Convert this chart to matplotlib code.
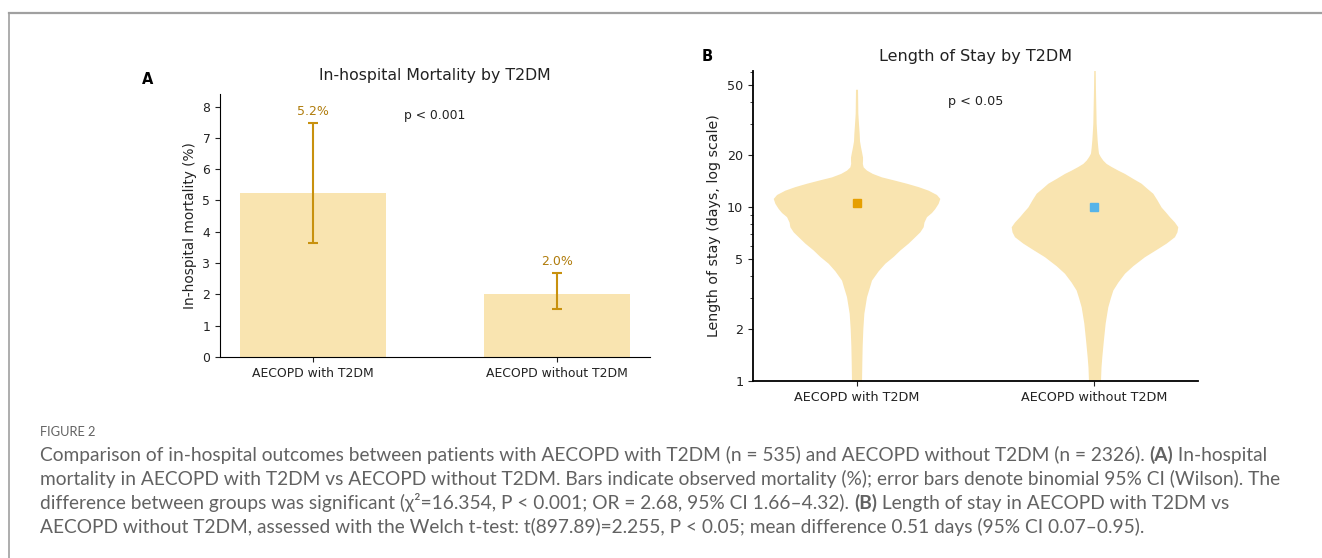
import matplotlib
matplotlib.use('Agg')
import matplotlib.pyplot as plt
from matplotlib.lines import Line2D
from matplotlib.ticker import FixedLocator, NullFormatter

plt.rcParams['font.family'] = ['DejaVu Sans']

# ---- data ----
groups = ['AECOPD with T2DM', 'AECOPD without T2DM']
mort_pct = [5.23, 2.02]
ci_low = [3.65, 1.52]
ci_high = [7.46, 2.68]
mort_labels = ['5.2%', '2.0%']

los_mean = [10.55, 10.04]

# violin outlines: length of stay (days) and relative half-width
los_days_with = [1.0, 1.3, 1.6, 2.0, 2.45, 3.05, 3.4, 3.8, 4.3, 4.75, 5.2, 5.66, 6.2, 6.75, 7.2,
                 7.7, 8.2, 8.8, 9.3, 9.8, 10.5, 11.2, 11.8, 12.5, 13.1, 13.7, 14.3, 14.9,
                 15.6, 16.3, 17.0, 17.8, 18.6, 19.4, 20.8, 22.2, 24.0, 26.5, 30.0, 34.6, 41.0, 47.5]
los_width_with = [0.06, 0.064, 0.068, 0.076, 0.088, 0.12, 0.15, 0.18, 0.26, 0.34, 0.44, 0.52,
                  0.62, 0.70, 0.76, 0.80, 0.81, 0.84, 0.90, 0.94, 0.98, 1.0, 0.96, 0.86, 0.74,
                  0.60, 0.45, 0.30, 0.19, 0.12, 0.08, 0.07, 0.072, 0.072, 0.06, 0.048, 0.036,
                  0.032, 0.024, 0.016, 0.014, 0.012]

los_days_without = [1.0, 1.2, 1.38, 1.7, 2.15, 2.4, 2.67, 3.0, 3.33, 3.7, 4.16, 4.6, 5.18, 5.7,
                    6.2, 6.75, 7.2, 7.7, 8.2, 8.8, 9.4, 10.0, 11.0, 12.0, 12.8, 13.7, 14.6,
                    15.6, 16.3, 17.1, 17.8, 18.6, 19.5, 20.4, 22.0, 24.3, 27.0, 30.3, 38.0, 47.0, 56.0, 65.0]
los_width_without = [0.072, 0.078, 0.088, 0.106, 0.128, 0.144, 0.16, 0.19, 0.22, 0.28, 0.36,
                     0.46, 0.60, 0.74, 0.86, 0.96, 0.99, 1.0, 0.96, 0.90, 0.85, 0.80, 0.75,
                     0.70, 0.63, 0.56, 0.46, 0.36, 0.28, 0.20, 0.14, 0.10, 0.07, 0.048, 0.04,
                     0.032, 0.026, 0.02, 0.016, 0.012, 0.01, 0.008]

fill_col = '#F9E4B0'
err_col = '#C8910E'
txt_col = '#B07C0C'
dark = '#222222'

fig = plt.figure(figsize=(13.22, 5.58), dpi=100)

# ---- panel A ----
axA = fig.add_axes([220 / 1322, 1 - 357 / 558, 430 / 1322, 263 / 558])
xA = range(len(groups))
axA.bar(xA, mort_pct, width=0.6, color=fill_col)
yerr = [[m - l for m, l in zip(mort_pct, ci_low)], [h - m for m, h in zip(mort_pct, ci_high)]]
axA.errorbar(xA, mort_pct, yerr=yerr, fmt='none', ecolor=err_col, elinewidth=1.5,
             capsize=3.4, capthick=1.5)
for i, lab in enumerate(mort_labels):
    axA.annotate(lab, (i, ci_high[i]), xytext=(0, 4), textcoords='offset points',
                 ha='center', va='bottom', fontsize=9, color=txt_col)
axA.set_ylim(0, 8.4)
axA.set_yticks(range(0, 9))
axA.set_xticks(list(xA))
axA.set_xticklabels(groups)
axA.set_ylabel('In-hospital mortality (%)', fontsize=9.8, color=dark)
axA.set_title('In-hospital Mortality by T2DM', fontsize=11.3, color=dark, pad=10)
axA.text(0.5, 0.92, 'p < 0.001', transform=axA.transAxes, ha='center', va='center',
         fontsize=8.9, color=dark)
axA.tick_params(labelsize=8.9, colors=dark)
for s in ['top', 'right']:
    axA.spines[s].set_visible(False)

# ---- panel B ----
axB = fig.add_axes([753 / 1322, 1 - 381 / 558, 445 / 1322, 310 / 558])
axB.set_yscale('log')
half = 0.35
profiles = [(los_days_with, los_width_with), (los_days_without, los_width_without)]
for i, (d, w) in enumerate(profiles):
    axB.fill_betweenx(d, [i - half * v for v in w], [i + half * v for v in w],
                      color=fill_col, linewidth=0)
axB.plot([0], [los_mean[0]], 's', color='#E69F00', ms=6)
axB.plot([1], [los_mean[1]], 's', color='#56B4E9', ms=6)
axB.set_xlim(-0.435, 1.435)
axB.set_ylim(1, 60.5)
axB.yaxis.set_major_locator(FixedLocator([1, 2, 5, 10, 20, 50]))
axB.set_yticklabels(['1', '2', '5', '10', '20', '50'])
axB.yaxis.set_minor_formatter(NullFormatter())
axB.set_xticks([0, 1])
axB.set_xticklabels(groups)
axB.set_ylabel('Length of stay (days, log scale)', fontsize=10.2, color=dark)
axB.set_title('Length of Stay by T2DM', fontsize=11.5, color=dark, pad=7)
axB.text(0.5, 0.903, 'p < 0.05', transform=axB.transAxes, ha='center', va='center',
         fontsize=9.2, color=dark)
axB.tick_params(labelsize=9.2, colors=dark)
axB.tick_params(which='minor', colors=dark)
for s in ['top', 'right']:
    axB.spines[s].set_visible(False)
for s in ['left', 'bottom']:
    axB.spines[s].set_linewidth(1.3)

fig.text(148 / 1322, 1 - 80 / 558, 'A', fontsize=10.5, fontweight='bold', ha='center', va='center')
fig.text(707 / 1322, 1 - 56 / 558, 'B', fontsize=10.5, fontweight='bold', ha='center', va='center')

# ---- frame ----
fig.add_artist(Line2D([9 / 1322, 1], [1 - 13 / 558, 1 - 13 / 558], color='#A0A0A0', lw=1.6))
fig.add_artist(Line2D([9 / 1322, 9 / 1322], [0, 1 - 13 / 558], color='#A0A0A0', lw=1.2))

# ---- caption ----
cap_font = ['Lato', 'DejaVu Sans']
cap_col = '#626262'
fig.text(40 / 1322, 1 - 432 / 558, 'FIGURE 2', fontsize=9.3, color=cap_col, family=cap_font,
         va='center')
lines = [
    [('Comparison of in-hospital outcomes between patients with AECOPD with T2DM (n = 535) and AECOPD without T2DM (n = 2326). ', 'normal'),
     ('(A)', 'bold'), (' In-hospital', 'normal')],
    [('mortality in AECOPD with T2DM vs AECOPD without T2DM. Bars indicate observed mortality (%); error bars denote binomial 95% CI (Wilson). The', 'normal')],
    [('difference between groups was significant (\u03c7\u00b2=16.354, P < 0.001; OR = 2.68, 95% CI 1.66\u20134.32). ', 'normal'),
     ('(B)', 'bold'), (' Length of stay in AECOPD with T2DM vs', 'normal')],
    [('AECOPD without T2DM, assessed with the Welch t-test: t(897.89)=2.255, P < 0.05; mean difference 0.51 days (95% CI 0.07\u20130.95).', 'normal')],
]
renderer = fig.canvas.get_renderer()
for k, segs in enumerate(lines):
    y = 1 - (455 + 24 * k) / 558
    x = 40 / 1322
    for s, wgt in segs:
        t = fig.text(x, y, s, fontsize=13.8, color=cap_col, family=cap_font,
                     fontweight=wgt, va='center')
        bb = t.get_window_extent(renderer=renderer)
        x = bb.x1 / fig.bbox.width

fig.savefig('out.png', dpi=100)
